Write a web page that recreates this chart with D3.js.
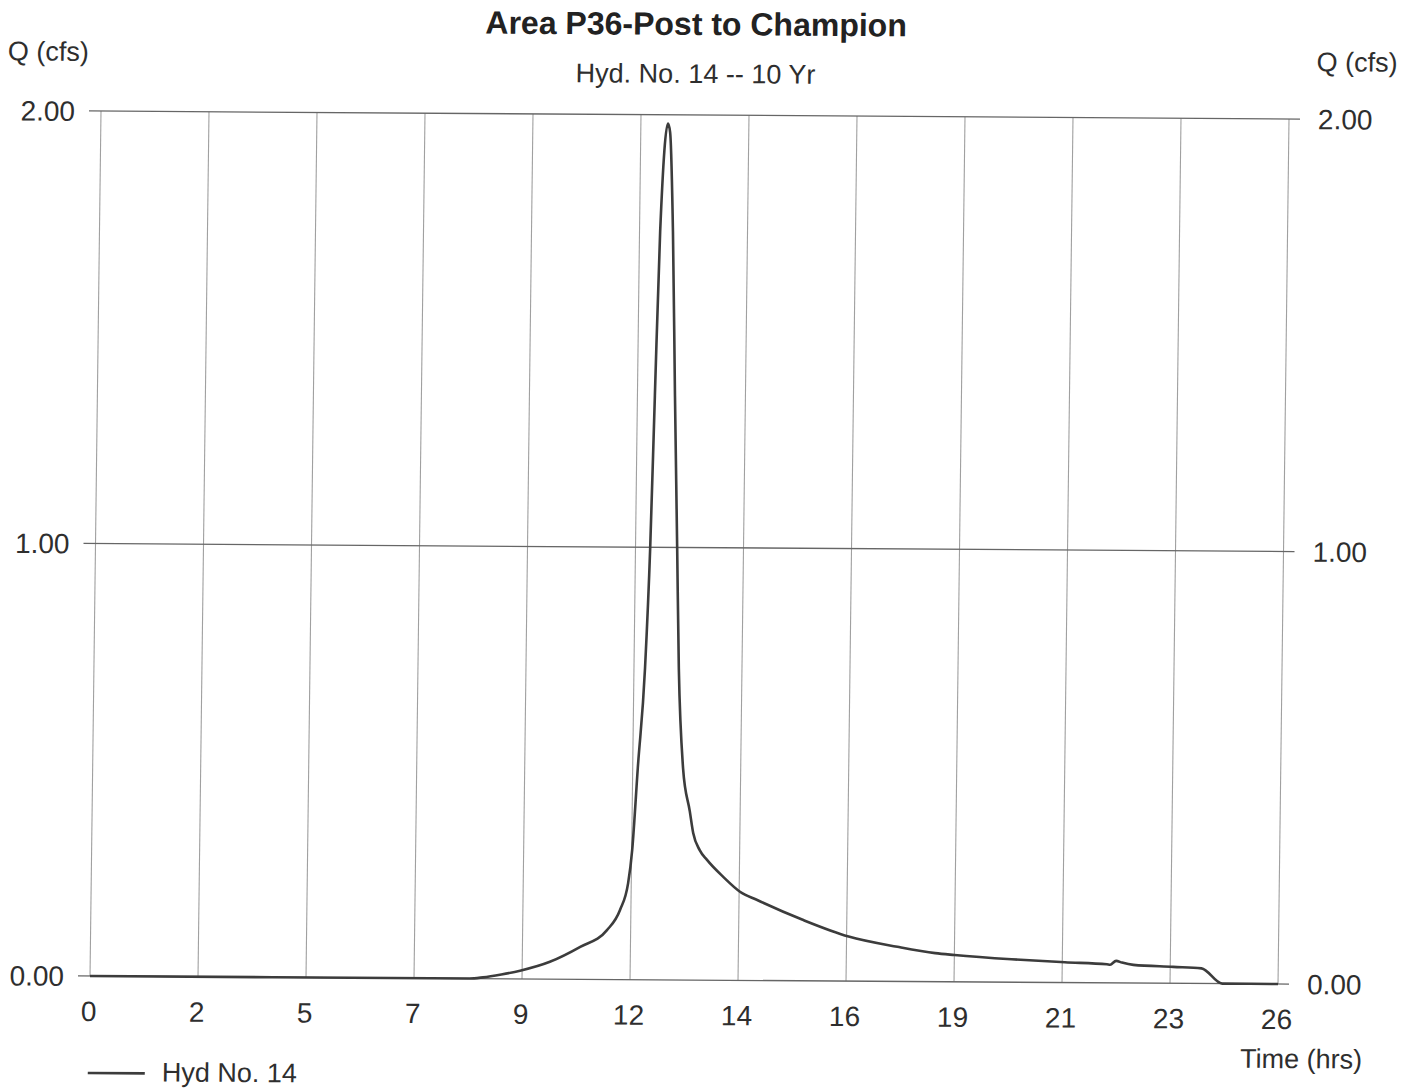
<!DOCTYPE html>
<html>
<head>
<meta charset="utf-8">
<script src="https://cdn.jsdelivr.net/npm/d3@7/dist/d3.min.js"></script>
<style>
  html, body { margin: 0; padding: 0; background: #ffffff; }
  svg { display: block; }
  text { font-family: "Liberation Sans", Arial, sans-serif; fill: #2e2e2e; }
</style>
</head>
<body>
<svg id="chart" width="1406" height="1088"></svg>
<script>
// ---- data ----
const titleText = "Area P36-Post to Champion";
const subtitleText = "Hyd. No. 14 -- 10 Yr";
const yAxisLabel = "Q (cfs)";
const xAxisLabel = "Time (hrs)";
const legendLabel = "Hyd No. 14";

const xTickLabels = ["0", "2", "5", "7", "9", "12", "14", "16", "19", "21", "23", "26"];
const yTickValues = [0, 1, 2];

// hydrograph: time (hrs) and flow (cfs)
const timeHrs = [0, 4, 8.3, 8.6, 9.0, 9.41, 10.06, 10.72, 11.30, 11.58, 11.75, 11.83, 11.93, 12.06, 12.14, 12.20, 12.27, 12.41,
                 12.46, 12.55, 12.64, 12.73, 12.80, 12.92, 13.08, 13.16, 13.31, 13.47, 13.83, 14.2, 14.58, 15.58, 16.59,
                 17.66, 18.49, 18.91, 20.16, 21.33, 22.25, 22.32, 22.45, 22.58, 22.83, 23.7, 24.32, 24.78, 26];
const flowCfs = [0, 0, 0, 0.003, 0.010, 0.019, 0.040, 0.075, 0.114, 0.161, 0.223, 0.30, 0.49, 0.72, 1.00, 1.35, 1.73, 1.98,
                 1.96, 1.73, 1.35, 1.00, 0.72, 0.49, 0.39, 0.34, 0.30, 0.278, 0.239, 0.205, 0.186, 0.141, 0.103,
                 0.080, 0.066, 0.062, 0.053, 0.047, 0.043, 0.042, 0.051, 0.047, 0.042, 0.038, 0.035, 0, 0];

// ---- layout ----
const W = 1188, H = 865;
const svg = d3.select("#chart");
// the scanned original is slightly rotated / sheared
const g = svg.append("g").attr("transform", "matrix(1,0.00673,-0.0127,1,101,111)");

const x = d3.scaleLinear().domain([0, 26]).range([0, W]);
const y = d3.scaleLinear().domain([0, 2]).range([H, 0]);
const xTickVals = xTickLabels.map((d, i) => i * 26 / (xTickLabels.length - 1));

// vertical grid
g.selectAll("line.vgrid").data(xTickVals).enter().append("line")
  .attr("class", "vgrid")
  .attr("x1", d => x(d)).attr("x2", d => x(d))
  .attr("y1", y(2)).attr("y2", y(0))
  .attr("stroke", "#a0a0a0").attr("stroke-width", 1.1);

// horizontal grid
g.selectAll("line.hgrid").data(yTickValues).enter().append("line")
  .attr("class", "hgrid")
  .attr("x1", -12).attr("x2", W + 11)
  .attr("y1", d => y(d)).attr("y2", d => y(d))
  .attr("stroke", "#666").attr("stroke-width", 1.3);

// y labels left & right
const fmt = d3.format(".2f");
g.selectAll("text.yl").data(yTickValues).enter().append("text")
  .attr("class", "yl").attr("x", -26).attr("y", d => y(d) + 10)
  .attr("text-anchor", "end").attr("font-size", 28).text(d => fmt(d));
g.selectAll("text.yr").data(yTickValues).enter().append("text")
  .attr("class", "yr").attr("x", W + 29).attr("y", d => y(d) + 10)
  .attr("text-anchor", "start").attr("font-size", 28).text(d => fmt(d));

// x labels
g.selectAll("text.xl").data(xTickVals).enter().append("text")
  .attr("class", "xl").attr("x", d => x(d) - 1).attr("y", H + 45)
  .attr("text-anchor", "middle").attr("font-size", 28)
  .text((d, i) => xTickLabels[i]);

// curve
const pts = timeHrs.map((t, i) => [t, flowCfs[i]]);
const line = d3.line().x(d => x(d[0])).y(d => y(d[1])).curve(d3.curveMonotoneX);
g.append("path").datum(pts).attr("d", line)
  .attr("fill", "none").attr("stroke", "#3c3c3c").attr("stroke-width", 2.6)
  .attr("stroke-linejoin", "round");

// titles
g.append("text").attr("x", W / 2).attr("y", -80).attr("text-anchor", "middle")
  .attr("font-size", 32).attr("font-weight", "bold").style("fill", "#222").text(titleText);
g.append("text").attr("x", W / 2).attr("y", -32).attr("text-anchor", "middle")
  .attr("font-size", 27).text(subtitleText);
g.append("text").attr("x", -94).attr("y", -50).attr("text-anchor", "start")
  .attr("font-size", 27).text(yAxisLabel);
g.append("text").attr("x", W + 108).attr("y", -48).attr("text-anchor", "end")
  .attr("font-size", 27).text(yAxisLabel);
g.append("text").attr("x", W + 85).attr("y", H + 84).attr("text-anchor", "end")
  .attr("font-size", 27).text(xAxisLabel);

// legend
g.append("line").attr("x1", -1).attr("x2", 56).attr("y1", H + 97).attr("y2", H + 97)
  .attr("stroke", "#3c3c3c").attr("stroke-width", 2.6);
g.append("text").attr("x", 73).attr("y", H + 105).attr("text-anchor", "start")
  .attr("font-size", 27).text(legendLabel);
</script>
</body>
</html>
